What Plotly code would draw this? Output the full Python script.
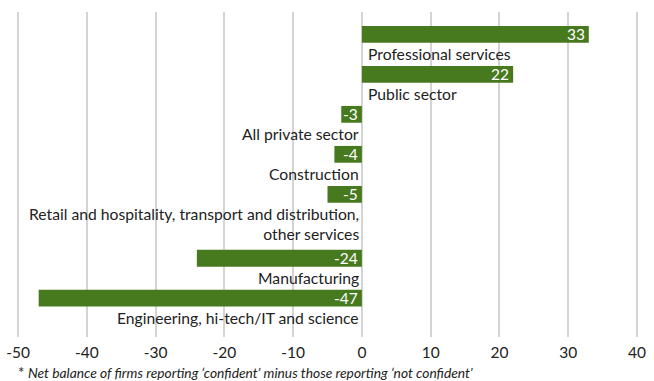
import plotly.graph_objects as go

# Sector confidence balances (net %, confident minus not confident)
sectors = [
    "Professional services",
    "Public sector",
    "All private sector",
    "Construction",
    "Retail and hospitality, transport and distribution,<br>other services",
    "Manufacturing",
    "Engineering, hi-tech/IT and science",
]
balances = [33, 22, -3, -4, -5, -24, -47]
x_ticks = [-50, -40, -30, -20, -10, 0, 10, 20, 30, 40]

BAR_GREEN = "#477a1f"
TEXT = "#222222"
FONT = "Lato"

# Each row gets one slot; a wrapped label pushes the following rows down.
extra_line = 0.6
positions = []
pos = 0.0
for name in sectors:
    positions.append(pos)
    pos += 1 + extra_line * name.count("<br>")

fig = go.Figure(
    go.Bar(
        x=balances,
        y=positions,
        orientation="h",
        width=0.42,
        marker=dict(color=BAR_GREEN, line=dict(width=0)),
        hoverinfo="skip",
    )
)

annotations = []
for name, val, y in zip(sectors, balances, positions):
    # value printed in white at the right-hand end of each bar
    annotations.append(dict(
        x=max(val, 0), y=y, xref="x", yref="y",
        text=str(val), showarrow=False,
        xanchor="right", yanchor="middle", xshift=-2,
        font=dict(family=FONT, size=15.5, color="white"),
    ))
    # sector name under the bar, hugging the zero line
    annotations.append(dict(
        x=0, y=y, xref="x", yref="y",
        text=name, showarrow=False,
        xanchor="left" if val > 0 else "right",
        align="left" if val > 0 else "right",
        yanchor="top", yshift=-9,
        xshift=4 if val > 0 else -1,
        font=dict(family=FONT, size=15.7, color=TEXT),
    ))

annotations.append(dict(
    x=0, y=-0.108, xref="paper", yref="paper",
    xanchor="left", yanchor="middle", xshift=0,
    text="<span style='font-style:normal;font-size:15px'>*</span> "
         "<i>Net balance of firms reporting \u2018confident\u2019 minus those reporting \u2018not confident\u2019</i>",
    showarrow=False, align="left",
    font=dict(family=FONT, size=13.8, color=TEXT),
))

fig.update_layout(
    width=654, height=381,
    margin=dict(l=16, r=15, t=12, b=44, autoexpand=False),
    paper_bgcolor="white", plot_bgcolor="white",
    showlegend=False,
    annotations=annotations,
    xaxis=dict(
        range=[-50.3, 40.3], tickvals=x_ticks, ticktext=[str(t) for t in x_ticks],
        showgrid=True, gridcolor="#d4d4d4", gridwidth=1.5,
        zeroline=False, showline=False, ticks="",
        ticklabelstandoff=4, automargin=False,
        tickfont=dict(family=FONT, size=15.5, color=TEXT),
        fixedrange=True,
    ),
    yaxis=dict(
        range=[positions[-1] + 0.97, -0.56],
        showticklabels=False, showgrid=False, zeroline=False, showline=False,
        automargin=False, fixedrange=True,
    ),
)

fig.write_html("out.html")
